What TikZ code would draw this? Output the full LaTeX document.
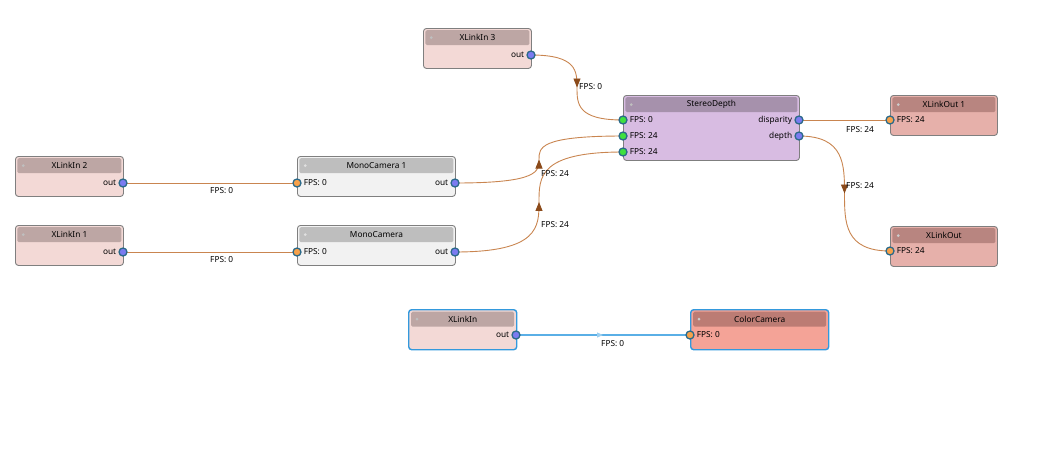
\documentclass[tikz,border=0pt]{standalone}
\usepackage{fontspec}
\setmainfont{Noto Sans}
\usetikzlibrary{
	positioning
	, arrows.meta
	, calc
	, backgrounds
	, decorations.markings
}

\definecolor{xinbody}{HTML}{F3D9D6}
\definecolor{xinhead}{HTML}{BDA6A4}
\definecolor{xoutbody}{HTML}{E6B0AA}
\definecolor{xouthead}{HTML}{B88580}
\definecolor{stereobody}{HTML}{D8BCE2}
\definecolor{stereohead}{HTML}{A691AC}
\definecolor{monobody}{HTML}{F2F2F2}
\definecolor{monohead}{HTML}{BEBEBE}
\definecolor{colorbody}{HTML}{F4A397}
\definecolor{colorhead}{HTML}{BC7C74}
\definecolor{blockedge}{HTML}{7F7F7F}
\definecolor{selectedge}{HTML}{3399DD}
\definecolor{linkcol}{HTML}{C98550}
\definecolor{linkhead}{HTML}{8B4A1A}
\definecolor{bluelink}{HTML}{5AAFE6}
\definecolor{portring}{HTML}{2B6A8A}
\definecolor{inportcol}{HTML}{F7A14A}
\definecolor{outportcol}{HTML}{7B7BF0}
\definecolor{greenport}{HTML}{3FE03F}

\begin{document}
\begin{tikzpicture}[
		x=1pt, y=-1pt
		, font=\fontsize{8.3}{9.5}\selectfont
		, block/.style={draw=blockedge, line width=0.9pt, rounded corners=3pt, inner sep=0pt, minimum height=40pt, anchor=north west}
		, selected/.style={draw=selectedge, line width=1.4pt}
		, header/.style={rounded corners=1.5pt, inner sep=0pt, minimum height=15pt, anchor=north}
		, headdot/.style={circle, fill=black!25, inner sep=0pt, minimum size=3pt}
		, port/.style={circle, draw=portring, line width=1.3pt, minimum size=8pt, inner sep=0pt}
		, inport/.style={port, fill=inportcol}
		, outport/.style={port, fill=outportcol}
		, stereoport/.style={port, fill=greenport}
		, portlabel/.style={inner sep=1pt}
		, fpslabel/.style={inner sep=0pt, anchor=west}
		, link/.style={draw=linkcol, line width=0.9pt}
		, flowlink/.style={link, postaction={decorate}, decoration={markings, mark=at position 0.5 with {\arrow[linkhead]{Triangle[length=9pt, width=7pt]}}}}
		, selectlink/.style={draw=bluelink, line width=1.2pt, postaction={decorate}, decoration={markings, mark=at position 0.5 with {\arrow[bluelink!60]{Triangle[length=6pt, width=5pt]}}}}]

		\useasboundingbox (0,0) rectangle (1046,448);

		%%% Blocks
		%% XLinkIn 3
		\node[block, fill=xinbody, minimum width=108pt] (xlinkin3) at (423,28) {};
		\node[header, fill=xinhead, minimum width=104pt] (xlinkin3head) at ([yshift=-2pt]xlinkin3.north) {XLinkIn 3};
		\node[headdot] (xlinkin3dot) at ([xshift=6pt]xlinkin3head.west) {};
		\node[outport] (xlinkin3out) at (531,55) {};
		\node[portlabel, left=1pt of xlinkin3out] (xlinkin3outlabel) {out};

		%% StereoDepth
		\node[block, fill=stereobody, minimum width=176pt, minimum height=65pt] (stereo) at (623,95) {};
		\node[header, fill=stereohead, minimum width=172pt] (stereohead) at ([yshift=-2pt]stereo.north) {StereoDepth};
		\node[headdot] (stereodot) at ([xshift=6pt]stereohead.west) {};
		\foreach [count=\i from 0] \y/\fps in {120/0, 136/24, 152/24} {
			\node[stereoport] (stereoin\i) at (623,\y) {};
			\node[portlabel, right=1pt of stereoin\i] (stereoin\i label) {FPS: \fps};
		}
		\node[outport] (stereodisp) at (799,120) {};
		\node[portlabel, left=1pt of stereodisp] (stereodisplabel) {disparity};
		\node[outport] (stereodepth) at (799,136) {};
		\node[portlabel, left=1pt of stereodepth] (stereodepthlabel) {depth};

		%% XLinkOut 1
		\node[block, fill=xoutbody, minimum width=107pt] (xlinkout1) at (890,95) {};
		\node[header, fill=xouthead, minimum width=103pt] (xlinkout1head) at ([yshift=-2pt]xlinkout1.north) {XLinkOut 1};
		\node[headdot, fill=black!20] (xlinkout1dot) at ([xshift=6pt]xlinkout1head.west) {};
		\node[inport] (xlinkout1in) at (890,120) {};
		\node[portlabel, right=1pt of xlinkout1in] (xlinkout1inlabel) {FPS: 24};

		%% XLinkOut
		\node[block, fill=xoutbody, minimum width=107pt] (xlinkout) at (890,226) {};
		\node[header, fill=xouthead, minimum width=103pt] (xlinkouthead) at ([yshift=-2pt]xlinkout.north) {XLinkOut};
		\node[headdot, fill=black!20] (xlinkoutdot) at ([xshift=6pt]xlinkouthead.west) {};
		\node[inport] (xlinkoutin) at (890,251) {};
		\node[portlabel, right=1pt of xlinkoutin] (xlinkoutinlabel) {FPS: 24};

		%% XLinkIn 2, XLinkIn 1
		\foreach \name/\title/\y in {xlinkin2/XLinkIn 2/156, xlinkin1/XLinkIn 1/225} {
			\node[block, fill=xinbody, minimum width=108pt] (\name) at (15,\y) {};
			\node[header, fill=xinhead, minimum width=104pt] (\name head) at ([yshift=-2pt]\name.north) {\title};
			\node[headdot] (\name dot) at ([xshift=6pt]\name head.west) {};
			\node[outport] (\name out) at (123,\y+27) {};
			\node[portlabel, left=1pt of \name out] (\name outlabel) {out};
		}

		%% MonoCamera 1, MonoCamera
		\foreach \name/\title/\y in {monocam1/MonoCamera 1/156, monocam/MonoCamera/225} {
			\node[block, fill=monobody, minimum width=158pt] (\name) at (297,\y) {};
			\node[header, fill=monohead, minimum width=154pt] (\name head) at ([yshift=-2pt]\name.north) {\title};
			\node[headdot, fill=black!12] (\name dot) at ([xshift=6pt]\name head.west) {};
			\node[inport] (\name in) at (297,\y+27) {};
			\node[portlabel, right=1pt of \name in] (\name inlabel) {FPS: 0};
			\node[outport] (\name out) at (455,\y+27) {};
			\node[portlabel, left=1pt of \name out] (\name outlabel) {out};
		}

		%% XLinkIn (selected)
		\node[block, selected, fill=xinbody, minimum width=108pt] (xlinkin) at (408,309) {};
		\node[header, fill=xinhead, minimum width=103pt] (xlinkinhead) at ([yshift=-2.5pt]xlinkin.north) {XLinkIn};
		\node[headdot] (xlinkindot) at ([xshift=6pt]xlinkinhead.west) {};
		\node[outport] (xlinkinout) at (516,335) {};
		\node[portlabel, left=1pt of xlinkinout] (xlinkinoutlabel) {out};

		%% ColorCamera (selected)
		\node[block, selected, fill=colorbody, minimum width=138pt] (colorcam) at (690,309) {};
		\node[header, fill=colorhead, minimum width=133pt] (colorcamhead) at ([yshift=-2.5pt]colorcam.north) {ColorCamera};
		\node[headdot, fill=black!20] (colorcamdot) at ([xshift=6pt]colorcamhead.west) {};
		\node[inport] (colorcamin) at (690,335) {};
		\node[portlabel, right=1pt of colorcamin] (colorcaminlabel) {FPS: 0};

		%%% Links
		\begin{scope}[on background layer]
			\draw[flowlink] (xlinkin3out.center) .. controls +(92,0) and +(-92,0) .. (stereoin0.center);
			\draw[flowlink] (monocam1out.center) .. controls +(168,0) and +(-168,0) .. (stereoin1.center);
			\draw[flowlink] (monocamout.center) .. controls +(168,0) and +(-168,0) .. (stereoin2.center);
			\draw[link] (stereodisp.center) -- (xlinkout1in.center);
			\draw[flowlink] (stereodepth.center) .. controls +(91,0) and +(-91,0) .. (xlinkoutin.center);
			\draw[link] (xlinkin2out.center) -- (monocam1in.center);
			\draw[link] (xlinkin1out.center) -- (monocamin.center);
			\draw[selectlink] (xlinkinout.center) -- (colorcamin.center);
		\end{scope}

		%% Link labels
		\node[fpslabel] (fpsstereoin0) at (579,87) {FPS: 0};
		\node[fpslabel] (fpsstereoin1) at (541,174) {FPS: 24};
		\node[fpslabel] (fpsstereoin2) at (541,225) {FPS: 24};
		\node[fpslabel] (fpsdisp) at (846,130) {FPS: 24};
		\node[fpslabel] (fpsdepth) at (846,186) {FPS: 24};
		\node[fpslabel] (fpsmono1) at (210,191) {FPS: 0};
		\node[fpslabel] (fpsmono) at (210,260) {FPS: 0};
		\node[fpslabel] (fpscolor) at (601,344) {FPS: 0};
	\end{tikzpicture}
\end{document}
